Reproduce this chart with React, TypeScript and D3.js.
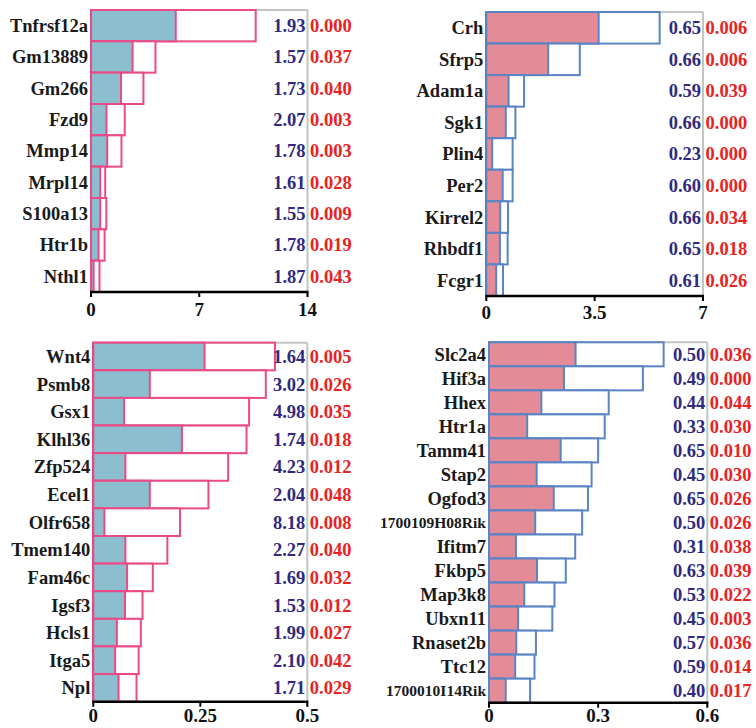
import React from 'react';
import * as d3 from 'd3';

// top-left panel
const tlGenes = ['Tnfrsf12a', 'Gm13889', 'Gm266', 'Fzd9', 'Mmp14', 'Mrpl14', 'S100a13', 'Htr1b', 'Nthl1'];
const tlFill = [5.48, 2.69, 1.94, 1.0, 1.05, 0.6, 0.6, 0.49, 0.17];
const tlTotal = [10.65, 4.17, 3.39, 2.18, 1.97, 0.92, 0.99, 0.88, 0.55];
const tlRatio = [1.93, 1.57, 1.73, 2.07, 1.78, 1.61, 1.55, 1.78, 1.87];
const tlP = [0.0, 0.037, 0.04, 0.003, 0.003, 0.028, 0.009, 0.019, 0.043];
const tlTicks = [0, 7, 14];

// top-right panel
const trGenes = ['Crh', 'Sfrp5', 'Adam1a', 'Sgk1', 'Plin4', 'Per2', 'Kirrel2', 'Rhbdf1', 'Fcgr1'];
const trFill = [3.63, 2.0, 0.72, 0.63, 0.19, 0.53, 0.45, 0.44, 0.32];
const trTotal = [5.6, 3.02, 1.22, 0.94, 0.85, 0.85, 0.7, 0.69, 0.54];
const trRatio = [0.65, 0.66, 0.59, 0.66, 0.23, 0.6, 0.66, 0.65, 0.61];
const trP = [0.006, 0.006, 0.039, 0.0, 0.0, 0.0, 0.034, 0.018, 0.026];
const trTicks = [0, 3.5, 7];

// bottom-left panel
const blGenes = ['Wnt4', 'Psmb8', 'Gsx1', 'Klhl36', 'Zfp524', 'Ecel1', 'Olfr658', 'Tmem140', 'Fam46c', 'Igsf3', 'Hcls1', 'Itga5', 'Npl'];
const blFill = [0.26, 0.132, 0.072, 0.207, 0.075, 0.132, 0.026, 0.075, 0.079, 0.074, 0.055, 0.051, 0.059];
const blTotal = [0.4245, 0.403, 0.364, 0.358, 0.315, 0.269, 0.2025, 0.173, 0.139, 0.115, 0.111, 0.106, 0.101];
const blRatio = [1.64, 3.02, 4.98, 1.74, 4.23, 2.04, 8.18, 2.27, 1.69, 1.53, 1.99, 2.1, 1.71];
const blP = [0.005, 0.026, 0.035, 0.018, 0.012, 0.048, 0.008, 0.04, 0.032, 0.012, 0.027, 0.042, 0.029];
const blTicks = [0, 0.25, 0.5];

// bottom-right panel
const brGenes = ['Slc2a4', 'Hif3a', 'Hhex', 'Htr1a', 'Tamm41', 'Stap2', 'Ogfod3', '1700109H08Rik', 'Ifitm7', 'Fkbp5', 'Map3k8', 'Ubxn11', 'Rnaset2b', 'Ttc12', '1700010I14Rik'];
const brFill = [0.238, 0.206, 0.144, 0.105, 0.197, 0.131, 0.178, 0.127, 0.074, 0.132, 0.097, 0.08, 0.075, 0.072, 0.046];
const brTotal = [0.48, 0.423, 0.329, 0.318, 0.3, 0.282, 0.272, 0.256, 0.237, 0.211, 0.18, 0.174, 0.129, 0.125, 0.113];
const brRatio = [0.5, 0.49, 0.44, 0.33, 0.65, 0.45, 0.65, 0.5, 0.31, 0.63, 0.53, 0.45, 0.57, 0.59, 0.4];
const brP = [0.036, 0.0, 0.044, 0.03, 0.01, 0.03, 0.026, 0.026, 0.038, 0.039, 0.022, 0.003, 0.036, 0.014, 0.017];
const brTicks = [0, 0.3, 0.6];

const FONT = "'Liberation Serif', 'Times New Roman', serif";
const BLUE_FILL = '#8bbfcf';
const PINK_LINE = '#ea4a86';
const PINK_FILL = '#e38c98';
const BLUE_LINE = '#5b84c4';
const NAVY = '#2f2a80';
const RED = '#e8231f';

const Panel = ({ genes, fill, total, ratio, pval, ticks, left, right, top, bottom, fillColor, lineColor, tickGap }) => {
  const x = d3.scaleLinear().domain([ticks[0], ticks[ticks.length - 1]]).range([left, right]);
  const y = d3.scaleBand().domain(genes).range([top, bottom]).padding(0);
  const bw = y.bandwidth();
  return (
    <g fontFamily={FONT} fontWeight="bold">
      <line x1={left} x2={right} y1={top} y2={top} stroke="#c4c4c4" strokeWidth={2} />
      <line x1={right} x2={right} y1={top} y2={bottom + 5} stroke="#c4c4c4" strokeWidth={2} />
      <line x1={left} x2={left} y1={top} y2={bottom} stroke="#000" strokeWidth={2} />
      {genes.map((g, i) => (
        <g key={g}>
          <rect x={x(0)} y={y(g)} width={x(total[i]) - x(0)} height={bw} fill="#fff" stroke={lineColor} strokeWidth={2} />
          <rect x={x(0)} y={y(g)} width={x(fill[i]) - x(0)} height={bw} fill={fillColor} stroke={lineColor} strokeWidth={2} />
          <text x={left - 3} y={y(g) + bw / 2} dy="0.35em" textAnchor="end" fontSize={g.length > 10 ? 15.5 : 18.5} fill="#1a1a1a">{g}</text>
          <text x={right - 2} y={y(g) + bw / 2} dy="0.35em" textAnchor="end" fontSize={18.5} fill={NAVY}>{ratio[i].toFixed(2)}</text>
          <text x={right + 2.5} y={y(g) + bw / 2} dy="0.35em" textAnchor="start" fontSize={18.5} fill={RED}>{pval[i].toFixed(3)}</text>
        </g>
      ))}
      <line x1={left - 1} x2={right + 1} y1={bottom} y2={bottom} stroke="#000" strokeWidth={2.5} />
      {ticks.map(t => (
        <g key={t}>
          <line x1={x(t)} x2={x(t)} y1={bottom} y2={bottom + 5} stroke="#000" strokeWidth={2} />
          <text x={x(t)} y={bottom + tickGap} textAnchor="middle" fontSize={19} fill="#111">{String(t)}</text>
        </g>
      ))}
    </g>
  );
};

export default function App() {
  return (
    <svg width={756} height={728} style={{ position: 'absolute', left: 0, top: 0, background: '#fff' }}>
      <Panel genes={tlGenes} fill={tlFill} total={tlTotal} ratio={tlRatio} pval={tlP} ticks={tlTicks}
        left={91} right={307.5} top={10} bottom={292} fillColor={BLUE_FILL} lineColor={PINK_LINE} tickGap={24} />
      <Panel genes={trGenes} fill={trFill} total={trTotal} ratio={trRatio} pval={trP} ticks={trTicks}
        left={486.3} right={703} top={12} bottom={296} fillColor={PINK_FILL} lineColor={BLUE_LINE} tickGap={23} />
      <Panel genes={blGenes} fill={blFill} total={blTotal} ratio={blRatio} pval={blP} ticks={blTicks}
        left={93.3} right={307.3} top={342.7} bottom={701.7} fillColor={BLUE_FILL} lineColor={PINK_LINE} tickGap={20.5} />
      <Panel genes={brGenes} fill={brFill} total={brTotal} ratio={brRatio} pval={brP} ticks={brTicks}
        left={489} right={707.3} top={342.3} bottom={702.7} fillColor={PINK_FILL} lineColor={BLUE_LINE} tickGap={19.5} />
    </svg>
  );
}
